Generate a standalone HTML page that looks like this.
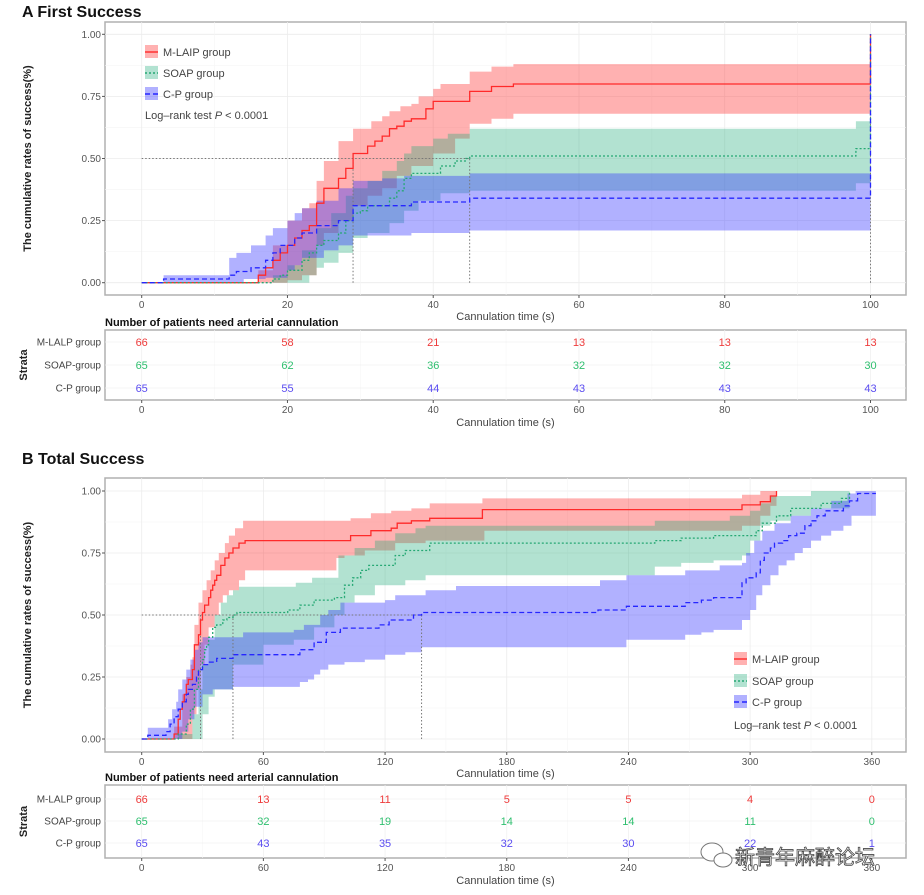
<!DOCTYPE html>
<html><head><meta charset="utf-8">
<style>
html,body{margin:0;padding:0;background:#fff;}
body{width:924px;height:895px;overflow:hidden;position:relative;font-family:"Liberation Sans",sans-serif;}
svg{position:absolute;left:0;top:0;}
</style></head>
<body>
<svg id="chart" width="924" height="895" viewBox="0 0 924 895" xmlns="http://www.w3.org/2000/svg" font-family="Liberation Sans, sans-serif"></svg>
<script>
// ---------- DATA: Panel A (First Success), [time, value] ----------
const aRedEst=[[0,0],[16,0.03],[17,0.06],[18,0.09],[19,0.12],[20,0.15],[21,0.18],[22,0.21],[23,0.23],[24,0.32],[25,0.38],[27,0.42],[28,0.46],[29,0.52],[31,0.55],[32,0.57],[33,0.59],[34,0.62],[35,0.63],[36,0.65],[37,0.66],[39,0.70],[40,0.73],[45,0.77],[48,0.79],[51,0.80],[100,1.0]];
const aRedUp=[[0,0],[16,0.05],[18,0.15],[20,0.25],[22,0.30],[23,0.32],[24,0.41],[25,0.49],[27,0.57],[29,0.62],[31.5,0.65],[33,0.67],[34,0.69],[35.5,0.71],[37,0.72],[38,0.75],[40,0.78],[41,0.80],[45,0.85],[48,0.87],[51,0.88]];
const aRedLo=[[0,0],[20,0.01],[22,0.03],[24,0.15],[25,0.20],[27,0.25],[29,0.31],[31,0.35],[33,0.38],[35,0.43],[37,0.47],[40,0.52],[43,0.58],[45,0.64],[48,0.66],[51,0.68]];
const aGreenEst=[[0,0],[18,0.015],[19,0.03],[20,0.05],[22,0.09],[23,0.12],[24,0.15],[25,0.17],[27,0.20],[28,0.25],[29,0.28],[30,0.29],[31,0.31],[34,0.34],[35,0.37],[36,0.42],[37,0.44],[41,0.47],[43,0.49],[44.5,0.50],[45,0.51],[98,0.54],[100,1.0]];
const aGreenUp=[[0,0],[18,0.03],[20,0.07],[22,0.13],[24,0.22],[26,0.28],[28,0.35],[29,0.38],[31,0.41],[33,0.45],[35,0.49],[36,0.52],[37,0.55],[40,0.58],[42,0.60],[45,0.62],[98,0.65]];
const aGreenLo=[[0,0],[23,0.03],[24,0.06],[25,0.08],[27,0.12],[29,0.18],[31,0.20],[34,0.24],[36,0.29],[38,0.33],[41,0.36],[45,0.37],[98,0.40]];
const aBlueEst=[[0,0],[3,0.015],[12,0.03],[13,0.045],[15,0.06],[17,0.09],[18,0.12],[19,0.15],[21,0.18],[22,0.20],[24,0.23],[27,0.25],[29,0.31],[37,0.325],[45,0.34],[100,1.0]];
const aBlueUp=[[0,0],[3,0.03],[12,0.10],[13,0.12],[15,0.15],[17,0.19],[18,0.22],[20,0.25],[21,0.28],[22,0.30],[24,0.33],[27,0.38],[29,0.41],[33,0.42],[36,0.43],[45,0.44]];
const aBlueLo=[[0,0],[14,0.015],[17,0.02],[20,0.05],[21,0.07],[22,0.10],[25,0.13],[27,0.15],[29,0.19],[37,0.20],[45,0.21]];
const aRiskTimes=[0,20,40,60,80,100];
const aRiskRed=[66,58,21,13,13,13];
const aRiskGreen=[65,62,36,32,32,30];
const aRiskBlue=[65,55,44,43,43,43];
const aXTicks=[0,20,40,60,80,100];
const aMedians=[29,45,100];

// ---------- DATA: Panel B (Total Success) ----------
const bRedEst=[[0,0],[16,0.02],[18,0.08],[19,0.12],[20,0.15],[21,0.18],[22,0.22],[23,0.24],[25,0.28],[26,0.38],[28,0.42],[29,0.48],[30,0.51],[31,0.54],[33,0.57],[34,0.60],[35,0.62],[36,0.64],[37,0.66],[39,0.70],[41,0.73],[43,0.75],[45,0.77],[48,0.79],[51,0.80],[103,0.82],[113,0.84],[123,0.85],[126,0.87],[133,0.88],[142,0.89],[168,0.925],[296,0.944],[305,0.957],[310,0.98],[313,1.0]];
const bRedUp=[[0,0],[16,0.05],[20,0.18],[22,0.25],[24,0.30],[25,0.33],[26,0.46],[28,0.55],[30,0.60],[32,0.64],[34,0.68],[36,0.72],[38,0.75],[41,0.79],[43,0.82],[46,0.85],[50,0.88],[103,0.89],[113,0.91],[123,0.92],[133,0.93],[142,0.95],[168,0.97],[296,0.985],[305,1.0]];
const bRedLo=[[0,0],[25,0.10],[27,0.20],[29,0.30],[31,0.38],[33,0.45],[36,0.50],[38,0.55],[40,0.58],[43,0.60],[48,0.64],[51,0.68],[96,0.73],[100,0.74],[110,0.76],[125,0.79],[140,0.80],[169,0.84],[296,0.86],[305,0.90],[310,0.94]];
const bGreenEst=[[0,0],[18,0.02],[22,0.06],[24,0.12],[26,0.20],[28,0.28],[30,0.32],[31,0.36],[32,0.38],[33,0.41],[35,0.45],[37,0.46],[40,0.48],[42,0.49],[45,0.50],[47,0.51],[72,0.52],[78,0.54],[85,0.56],[95,0.57],[100,0.62],[104,0.65],[108,0.68],[112,0.70],[125,0.74],[130,0.76],[142,0.79],[253,0.80],[266,0.81],[282,0.82],[303,0.84],[306,0.87],[313,0.90],[320,0.93],[335,0.95],[345,0.97],[349,1.0]];
const bGreenUp=[[0,0],[18,0.02],[25,0.10],[28,0.20],[30,0.30],[33,0.40],[36,0.50],[39,0.55],[42,0.58],[45,0.60],[48,0.614],[76,0.63],[84,0.65],[97,0.74],[105,0.77],[115,0.80],[125,0.83],[135,0.85],[140,0.86],[253,0.88],[290,0.90],[300,0.92],[305,0.95],[310,0.98],[330,1.0]];
const bGreenLo=[[0,0],[30,0.10],[33,0.17],[36,0.20],[45,0.30],[60,0.38],[75,0.40],[85,0.45],[95,0.50],[100,0.55],[105,0.58],[115,0.62],[130,0.64],[140,0.66],[253,0.695],[266,0.71],[282,0.72],[296,0.74],[300,0.80],[305,0.86],[310,0.88],[320,0.90],[330,0.93]];
const bBlueEst=[[0,0],[3,0.015],[12,0.03],[14,0.06],[16,0.09],[18,0.12],[20,0.15],[22,0.18],[23,0.20],[25,0.22],[27,0.25],[28,0.28],[30,0.30],[33,0.31],[37,0.325],[45,0.34],[78,0.36],[85,0.39],[91,0.43],[98,0.447],[117,0.46],[122,0.48],[134,0.50],[138,0.51],[225,0.52],[239,0.535],[268,0.55],[276,0.56],[282,0.57],[296,0.63],[298,0.65],[303,0.67],[305,0.72],[307,0.75],[310,0.77],[312,0.79],[316,0.80],[319,0.82],[323,0.83],[327,0.86],[330,0.88],[333,0.90],[337,0.92],[346,0.94],[349,0.96],[353,0.99]];
const bBlueUp=[[0,0],[3,0.045],[13,0.08],[15,0.12],[17,0.15],[18,0.20],[20,0.24],[22,0.28],[24,0.32],[26,0.36],[28,0.39],[30,0.41],[50,0.43],[75,0.44],[80,0.46],[88,0.50],[92,0.52],[98,0.55],[120,0.56],[125,0.58],[140,0.60],[155,0.617],[226,0.64],[239,0.66],[268,0.68],[285,0.70],[296,0.71],[298,0.75],[302,0.80],[306,0.84],[312,0.87],[320,0.90],[330,0.93],[340,0.96],[348,0.99],[352,1.0]];
const bBlueLo=[[0,0],[20,0.03],[23,0.08],[26,0.13],[30,0.18],[35,0.20],[45,0.21],[78,0.23],[82,0.24],[85,0.26],[88,0.28],[92,0.30],[100,0.31],[110,0.32],[120,0.34],[130,0.35],[138,0.37],[239,0.40],[268,0.42],[276,0.43],[282,0.44],[296,0.48],[300,0.52],[303,0.58],[306,0.62],[310,0.66],[314,0.70],[318,0.72],[322,0.75],[326,0.77],[330,0.80],[335,0.82],[340,0.84],[346,0.86],[350,0.90]];
const bRiskTimes=[0,60,120,180,240,300,360];
const bRiskRed=[66,13,11,5,5,4,0];
const bRiskGreen=[65,32,19,14,14,11,0];
const bRiskBlue=[65,43,35,32,30,22,1];
const bXTicks=[0,60,120,180,240,300,360];
const bMedians=[29,45,138];
const yTicks=[0,0.25,0.5,0.75,1.0];
const yTickLabels=["0.00","0.25","0.50","0.75","1.00"];
const strataNames=["M-LALP group","SOAP-group","C-P group"];
const legendNames=["M-LAIP group","SOAP group","C-P group"];

// ---------- RENDERING ----------
const NS="http://www.w3.org/2000/svg";
const svg=document.getElementById('chart');
function mk(tag,attrs,parent,text){const e=document.createElementNS(NS,tag);for(const k in attrs)e.setAttribute(k,attrs[k]);if(text!==undefined)e.textContent=text;(parent||svg).appendChild(e);return e;}
const COL={red:"#ff2a2a",green:"#26a874",blue:"#2626ff"};
const FILL={red:"rgba(255,40,40,0.36)",green:"rgba(30,170,120,0.34)",blue:"rgba(50,50,255,0.38)"};
const TXT={red:"#ee3b3b",green:"#2fbf6f",blue:"#5a4cf0"};

function stepPts(arr,endT,sx,sy){const p=[];for(let i=0;i<arr.length;i++){const [t,v]=arr[i];if(i>0)p.push([sx(t),sy(arr[i-1][1])]);p.push([sx(t),sy(v)]);}p.push([sx(endT),sy(arr[arr.length-1][1])]);return p;}

function panel(cfg){
  const {g,x0,x1,y0,y1,tmin,tmax,xpad,xTicks,minor,title,titleY,series,medians,legend,risk,riskTimes,tbl,prefix}=cfg;
  const sx=t=>cfg.px0+(t-tmin)*(cfg.px1-cfg.px0)/(tmax-tmin);
  const sy=v=>cfg.py0-v*(cfg.py0-cfg.py1);
  const t1=mk('text',{x:22,y:titleY,'font-size':16,'font-weight':'bold',fill:'#111'},g,title);
  
  
  const frame=mk('rect',{x:x0,y:y0,width:x1-x0,height:y1-y0,fill:'#fff',stroke:'#b0b0b0','stroke-width':1.5},g);
  
  
  // grid
  for(let i=0;i<yTicks.length;i++){mk('line',{x1:x0,x2:x1,y1:sy(yTicks[i]),y2:sy(yTicks[i]),stroke:'#ececec','stroke-width':0.8},g);if(i<yTicks.length-1){const m=(yTicks[i]+yTicks[i+1])/2;mk('line',{x1:x0,x2:x1,y1:sy(m),y2:sy(m),stroke:'#f5f5f5','stroke-width':0.6},g);}}
  for(let i=0;i<xTicks.length;i++){mk('line',{x1:sx(xTicks[i]),x2:sx(xTicks[i]),y1:y0,y2:y1,stroke:'#ececec','stroke-width':0.8},g);if(i<xTicks.length-1){const m=(xTicks[i]+xTicks[i+1])/2;mk('line',{x1:sx(m),x2:sx(m),y1:y0,y2:y1,stroke:'#f5f5f5','stroke-width':0.6},g);}}
  // ticks labels
  yTicks.forEach((v,i)=>{mk('line',{x1:x0-3,x2:x0,y1:sy(v),y2:sy(v),stroke:'#555'},g);const t=mk('text',{x:x0-4,y:sy(v)+3.5,'font-size':10,'text-anchor':'end',fill:'#555'},g,yTickLabels[i]);});
  xTicks.forEach(v=>{mk('line',{x1:sx(v),x2:sx(v),y1:y1,y2:y1+3,stroke:'#555'},g);const t=mk('text',{x:sx(v),y:y1+13,'font-size':10,'text-anchor':'middle',fill:'#555'},g,String(v));});
  const xl=mk('text',{x:(x0+x1)/2,y:y1+25,'font-size':11,'text-anchor':'middle',fill:'#444'},g,'Cannulation time (s)');
  
  
  const yc=(y0+y1)/2;
  const yl=mk('text',{x:0,y:0,'font-size':11,'font-weight':'bold','text-anchor':'middle',fill:'#222',transform:`translate(31,${yc}) rotate(-90)`},g,'The cumulative rates of success(%)');
  
  
  // bands
  series.forEach(s=>{
    const up=stepPts(s.up,s.end,sx,sy),lo=stepPts(s.lo,s.end,sx,sy).reverse();
    const pts=up.concat(lo).map(p=>p[0].toFixed(1)+','+p[1].toFixed(1)).join(' ');
    const b=mk('polygon',{points:pts,fill:FILL[s.c],stroke:'none'},g);
    
    
  });
  // median lines
  const mh=mk('line',{x1:sx(0),x2:sx(medians[medians.length-1]>=tmax?45:medians[medians.length-1]),y1:sy(0.5),y2:sy(0.5),stroke:'#777','stroke-width':1,'stroke-dasharray':'1.5,2'},g);
  
  
  medians.forEach(m=>{const l=mk('line',{x1:sx(m),x2:sx(m),y1:sy(0),y2:sy(m>=tmax?1:0.5),stroke:'#777','stroke-width':1,'stroke-dasharray':'1.5,2'},g);});
  // lines
  series.forEach(s=>{
    const p=stepPts(s.est,s.end,sx,sy);
    const d='M'+p.map(q=>q[0].toFixed(1)+','+q[1].toFixed(1)).join(' L');
    const l=mk('path',{d:d,fill:'none',stroke:COL[s.c],'stroke-width':1.3,'stroke-dasharray':s.dash},g);
    
    
  });
  // legend
  legend.rows.forEach((yy,i)=>{
    const s=series[i];
    const lg=mk('g',{},g);
    
    
    mk('rect',{x:legend.x,y:yy-7,width:13,height:13,fill:FILL[s.c]},lg);
    mk('line',{x1:legend.x,x2:legend.x+13,y1:yy,y2:yy,stroke:COL[s.c],'stroke-width':1.4,'stroke-dasharray':s.dash},lg);
    mk('text',{x:legend.x+18,y:yy+4,'font-size':11,fill:'#444'},lg,legendNames[i]);
  });
  const lr=mk('text',{x:legend.x,y:legend.lr,'font-size':11,fill:'#444'},g);
  
  
  mk('tspan',{},lr,'Log\u2013rank test ');mk('tspan',{'font-style':'italic'},lr,'P');mk('tspan',{},lr,' < 0.0001');
  // risk table
  const tt=mk('text',{x:x0,y:tbl.y0-4,'font-size':11,'font-weight':'bold',fill:'#111'},g,'Number of patients need arterial cannulation');
  
  
  const tb=mk('rect',{x:x0,y:tbl.y0,width:x1-x0,height:tbl.y1-tbl.y0,fill:'#fff',stroke:'#b0b0b0','stroke-width':1.5},g);
  
  
  xTicks.forEach((v,i)=>{mk('line',{x1:sx(v),x2:sx(v),y1:tbl.y0,y2:tbl.y1,stroke:'#f0f0f0','stroke-width':0.8},g);if(i<xTicks.length-1){const m=(xTicks[i]+xTicks[i+1])/2;mk('line',{x1:sx(m),x2:sx(m),y1:tbl.y0,y2:tbl.y1,stroke:'#f6f6f6','stroke-width':0.6},g);}});
  tbl.rows.forEach(yy=>mk('line',{x1:x0,x2:x1,y1:yy,y2:yy,stroke:'#f0f0f0','stroke-width':0.8},g));
  const keys=['red','green','blue'];
  risk.forEach((row,ri)=>{
    const sl=mk('text',{x:x0-4,y:tbl.rows[ri]+3.5,'font-size':10,'text-anchor':'end',fill:'#444'},g,strataNames[ri]);
    
    
    row.forEach((n,ci)=>{const t=mk('text',{x:sx(riskTimes[ci]),y:tbl.rows[ri]+4,'font-size':11,'text-anchor':'middle',fill:TXT[keys[ri]]},g,String(n));});
  });
  const st=mk('text',{x:0,y:0,'font-size':11,'font-weight':'bold','text-anchor':'middle',fill:'#222',transform:`translate(27,${(tbl.y0+tbl.y1)/2}) rotate(-90)`},g,'Strata');
  
  
  xTicks.forEach(v=>{mk('line',{x1:sx(v),x2:sx(v),y1:tbl.y1,y2:tbl.y1+3,stroke:'#555'},g);const t=mk('text',{x:sx(v),y:tbl.y1+13,'font-size':10,'text-anchor':'middle',fill:'#555'},g,String(v));});
  const tx=mk('text',{x:(x0+x1)/2,y:tbl.y1+26,'font-size':11,'text-anchor':'middle',fill:'#444'},g,'Cannulation time (s)');
  
  
}

const gA=mk('g',{});


panel({g:gA,prefix:'panel-a',x0:105,x1:906,y0:22,y1:295,px0:141.7,px1:870.5,py0:282.7,py1:34.3,tmin:0,tmax:100,
  xTicks:aXTicks,title:'A First Success',titleY:17,medians:aMedians,
  series:[{key:'m-laip',c:'red',est:aRedEst,up:aRedUp,lo:aRedLo,end:100,dash:'none'},
          {key:'soap',c:'green',est:aGreenEst,up:aGreenUp,lo:aGreenLo,end:100,dash:'2,2'},
          {key:'c-p',c:'blue',est:aBlueEst,up:aBlueUp,lo:aBlueLo,end:100,dash:'5,3'}],
  legend:{x:145,rows:[52,73,94],lr:119},
  risk:[aRiskRed,aRiskGreen,aRiskBlue],riskTimes:aRiskTimes,
  tbl:{y0:330,y1:400,rows:[342,365,388]}});

const gB=mk('g',{});


panel({g:gB,prefix:'panel-b',x0:105,x1:906,y0:478,y1:752,px0:141.7,px1:871.8,py0:739,py1:491,tmin:0,tmax:360,
  xTicks:bXTicks,title:'B Total Success',titleY:464,medians:bMedians,
  series:[{key:'m-laip',c:'red',est:bRedEst,up:bRedUp,lo:bRedLo,end:313,dash:'none'},
          {key:'soap',c:'green',est:bGreenEst,up:bGreenUp,lo:bGreenLo,end:349,dash:'2,2'},
          {key:'c-p',c:'blue',est:bBlueEst,up:bBlueUp,lo:bBlueLo,end:362,dash:'5,3'}],
  legend:{x:734,rows:[659,681,702],lr:729},
  risk:[bRiskRed,bRiskGreen,bRiskBlue],riskTimes:bRiskTimes,
  tbl:{y0:785,y1:858,rows:[799,821,843]}});

// watermark
const wm=mk('g',{});


mk('ellipse',{cx:712,cy:852,rx:11,ry:9,fill:'#fff',stroke:'#777','stroke-width':1},wm);
mk('ellipse',{cx:723,cy:860,rx:9,ry:7,fill:'#fff',stroke:'#777','stroke-width':1},wm);
mk('text',{x:735,y:864,'font-size':20,fill:'#fff',stroke:'#444','stroke-width':0.8,'font-family':'"Noto Sans CJK SC", "WenQuanYi Zen Hei", sans-serif'},wm,'新青年麻醉论坛');
</script>
</body></html>
